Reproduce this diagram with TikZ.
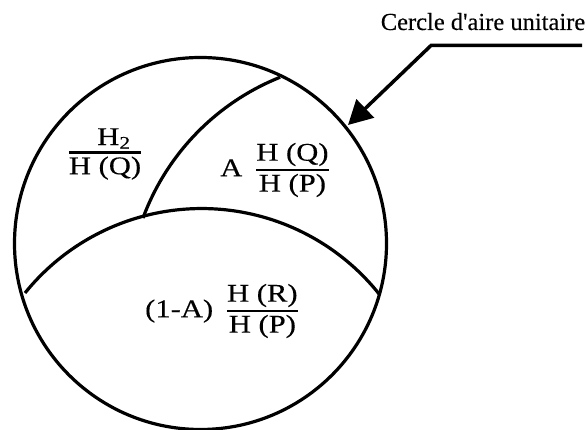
\documentclass[tikz,border=0pt]{standalone}
\usepackage{amsmath}
\usepackage{fontspec}
\setmainfont{Liberation Serif}[Ligatures=TeXOff, FakeBold=0.3]
\newfontfamily\widefont[FakeStretch=1.2, FakeBold=0.3]{Liberation Serif}
\usetikzlibrary{arrows.meta}
\newcommand{\ratio}[2]{\genfrac{}{}{2.6pt}{1}{\hbox{#1}}{\hbox{#2}}}

\begin{document}
\begin{tikzpicture}[x=1pt, y=1pt,
  rim/.style={line width=3.2pt},
  frac/.style={inner sep=0pt, font=\widefont\fontsize{25.5}{30}\selectfont}]
\useasboundingbox (0, 0) rectangle (586, 430);

\draw [rim] (200.5, 186.5) circle [radius=186pt];
\draw [rim] (25, 137) arc [start angle=141.1, end angle=38.4, radius=227pt];
\draw [rim] (143, 212) arc [start angle=159.7, end angle=111.8, radius=242pt];

\node (fracL) [frac] at (105, 276) {$\ratio{\hspace*{0.7em}H\textsubscript{2}}{H (Q)}$};
\node (fracT) [frac] at (275, 260) {A\hspace{0.5em}$\ratio{H (Q)}{H (P)}$};
\node (fracB) [frac] at (222, 119) {(1-A)\hspace{0.5em}$\ratio{H (R)}{H (P)}$};

\node (label) [anchor=base, inner sep=0pt, font=\fontsize{24.5}{28}\selectfont] at (483, 400) {Cercle d'aire unitaire};
\coordinate (tail) at (582, 384.5);
\coordinate (knee) at (431, 384.5);
\coordinate (tip) at (348, 305);
\draw [line width=3.5pt, -{Triangle[length=24pt, width=25pt]}] (tail) -- (knee) -- (tip);
\end{tikzpicture}
\end{document}
